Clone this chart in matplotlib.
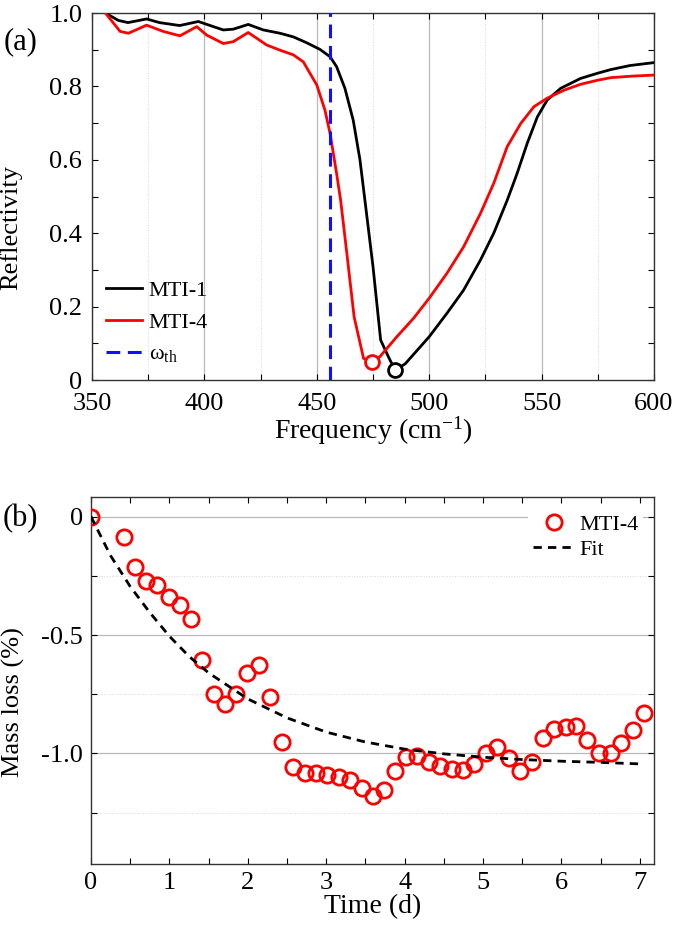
import matplotlib
matplotlib.use('Agg')
import matplotlib.pyplot as plt
from matplotlib.ticker import MultipleLocator, FixedLocator

plt.rcParams['font.family'] = ['Liberation Serif', 'DejaVu Serif']
plt.rcParams['mathtext.fontset'] = 'custom'
plt.rcParams['mathtext.rm'] = 'Liberation Serif'
plt.rcParams['mathtext.it'] = 'Liberation Serif'
plt.rcParams['axes.unicode_minus'] = False

# (a) reflectivity spectra
freq1 = [356, 361.7, 366, 374.3, 380, 389, 397.3, 404, 408.4, 412.8, 419.5, 426.2, 433.6,
         439.6, 445.5, 451.4, 455.9, 458.8, 462.5, 466.2, 469.2, 471.4, 475, 478.4, 481.8,
         484.8, 489.3, 500, 507.9, 515.3, 522.8, 528.7, 534.7, 539.1, 543.6, 548.1, 552.5,
         558.5, 567.4, 574.9, 580.8, 589.3, 600]
refl1 = [1.0, 0.98, 0.974, 0.984, 0.974, 0.966, 0.977, 0.963, 0.954, 0.956, 0.969, 0.954, 0.945,
         0.935, 0.919, 0.901, 0.881, 0.854, 0.795, 0.708, 0.6, 0.49, 0.309, 0.109, 0.064,
         0.027, 0.044, 0.118, 0.182, 0.245, 0.327, 0.4, 0.49, 0.563, 0.645, 0.717, 0.763,
         0.795, 0.822, 0.836, 0.846, 0.857, 0.865]
freq4 = [356, 362.5, 366.2, 374.3, 381.7, 389.1, 396.6, 401, 408.4, 412.8, 419.5, 427.7, 433.6,
         439.6, 444, 450, 453.6, 455.9, 458.8, 460.6, 463.2, 466.6, 470.8, 474.6, 478.1,
         485.6, 493, 500, 507.9, 515.3, 522.8, 528.7, 534.7, 540.7, 546.6, 552.5, 560,
         567.4, 574.9, 580.8, 590, 600]
refl4 = [1.0, 0.95, 0.945, 0.967, 0.95, 0.938, 0.963, 0.94, 0.917, 0.922, 0.947, 0.913, 0.899,
         0.886, 0.867, 0.804, 0.736, 0.672, 0.563, 0.49, 0.354, 0.172, 0.059, 0.048, 0.064,
         0.118, 0.168, 0.223, 0.291, 0.363, 0.454, 0.536, 0.636, 0.699, 0.745, 0.768, 0.79,
         0.806, 0.817, 0.824, 0.828, 0.831]
min1 = (484.8, 0.027)
min4 = (474.6, 0.048)
omega_th = 456

# (b) mass loss
time_d = [0, 0.417, 0.557, 0.7, 0.842, 0.99, 1.13, 1.276, 1.416, 1.565, 1.713, 1.854, 1.99,
          2.139, 2.287, 2.437, 2.58, 2.729, 2.867, 3.015, 3.159, 3.308, 3.456, 3.594, 3.738,
          3.875, 4.013, 4.162, 4.311, 4.454, 4.603, 4.741, 4.89, 5.033, 5.182, 5.331, 5.469,
          5.623, 5.761, 5.91, 6.053, 6.191, 6.329, 6.477, 6.626, 6.764, 6.907, 7.056]
mass_loss = [0, -0.087, -0.211, -0.272, -0.289, -0.341, -0.373, -0.432, -0.606, -0.749, -0.792,
             -0.749, -0.659, -0.627, -0.761, -0.951, -1.056, -1.081, -1.081, -1.09, -1.1, -1.114,
             -1.146, -1.178, -1.156, -1.076, -1.014, -1.011, -1.035, -1.053, -1.067, -1.069,
             -1.044, -1.0, -0.972, -1.021, -1.076, -1.035, -0.933, -0.896, -0.889, -0.886,
             -0.944, -0.997, -0.997, -0.956, -0.9, -0.831]
fit_t = [0, 0.25, 0.5, 0.75, 1.0, 1.25, 1.5, 2.0, 2.5, 3.0, 3.5, 4.0, 4.5, 5.0, 5.5, 6.0, 6.5, 7.05]
fit_y = [0, -0.165, -0.295, -0.405, -0.505, -0.59, -0.66, -0.77, -0.85, -0.91, -0.952, -0.982,
         -1.002, -1.016, -1.026, -1.033, -1.038, -1.045]

fig = plt.figure(figsize=(6.75, 9.26), dpi=100)
ax1 = fig.add_axes([0.1363, 0.5896, 0.8326, 0.3963])
ax2 = fig.add_axes([0.1348, 0.0670, 0.8341, 0.3963])

for ax in (ax1, ax2):
    ax.tick_params(which='both', direction='in', top=True, right=True, length=4,
                   width=0.8, labelsize=19, pad=6)
    for s in ax.spines.values():
        s.set_linewidth(1.0)
        s.set_color('#333333')
ax1.tick_params(axis='x', pad=9)
ax1.tick_params(axis='y', pad=7)

# panel a
ax1.plot(freq1, refl1, color='black', lw=2, label='MTI-1', zorder=3)
ax1.plot(freq4, refl4, color='red', lw=2, label='MTI-4', zorder=3)
ax1.axvline(omega_th, color='#1010ff', lw=2.2, ls=(0, (4.5, 2.5)),
            label=r'$\mathrm{\omega_{th}}$', zorder=4)
ax1.plot(*min1, 'o', mfc='white', mec='black', ms=10, mew=2, zorder=5)
ax1.plot(*min4, 'o', mfc='white', mec='red', ms=10, mew=2, zorder=5)
ax1.set_xlim(350, 600)
ax1.set_ylim(0, 1.0)
ax1.xaxis.set_major_locator(MultipleLocator(50))
ax1.xaxis.set_minor_locator(MultipleLocator(25))
ax1.set_yticks([0, 0.2, 0.4, 0.6, 0.8, 1.0])
ax1.set_yticklabels(['0', '0.2', '0.4', '0.6', '0.8', '1.0'])
ax1.yaxis.set_minor_locator(MultipleLocator(0.1))
ax1.grid(axis='x', which='major', color='#b8b8b8', lw=0.9)
ax1.grid(axis='x', which='minor', color='#d8d8d8', lw=0.7, ls=':')
ax1.set_axisbelow(True)
ax1.set_xlabel('Frequency (cm$^{-1}$)', fontsize=20, labelpad=0)
ax1.set_ylabel('Reflectivity', fontsize=19)
ax1.yaxis.set_label_coords(-0.125, 0.417)
ax1.legend(loc='lower left', bbox_to_anchor=(-0.01, -0.012), frameon=False, fontsize=16,
           handlelength=1.6, handletextpad=0.3, labelspacing=0.5)
fig.text(0.03, 0.955, '(a)', fontsize=22, ha='center', va='center')

# panel b
ax2.plot(time_d, mass_loss, 'o', mfc='none', mec='red', ms=11, mew=2, label='MTI-4', zorder=3)
ax2.plot(fit_t, fit_y, color='black', lw=2, ls=(0, (3, 2.2)), label='Fit', zorder=4)
ax2.set_xlim(0, 7.18)
ax2.set_ylim(-1.467, 0.083)
ax2.xaxis.set_major_locator(MultipleLocator(1))
ax2.xaxis.set_minor_locator(MultipleLocator(0.5))
ax2.set_yticks([0, -0.5, -1.0])
ax2.set_yticklabels(['0', '-0.5', '-1.0'])
ax2.yaxis.set_minor_locator(FixedLocator([-0.25, -0.75, -1.25]))
ax2.grid(axis='y', which='major', color='#b8b8b8', lw=0.9)
ax2.grid(axis='y', which='minor', color='#d8d8d8', lw=0.7, ls=':')
ax2.set_axisbelow(True)
ax2.set_xlabel('Time (d)', fontsize=20, labelpad=0)
ax2.set_ylabel('Mass loss (%)', fontsize=19)
ax2.yaxis.set_label_coords(-0.118, 0.44)
leg = ax2.legend(loc='upper right', bbox_to_anchor=(1.0, 0.995), frameon=True, fontsize=16,
                 handlelength=1.9, handletextpad=0.2, labelspacing=0.2, borderpad=0.2,
                 fancybox=False)
leg.get_frame().set_edgecolor('none')
leg.get_frame().set_facecolor('white')
leg.get_frame().set_alpha(1)
fig.text(0.03, 0.44, '(b)', fontsize=22, ha='center', va='center')

fig.savefig('out.png', dpi=100)
